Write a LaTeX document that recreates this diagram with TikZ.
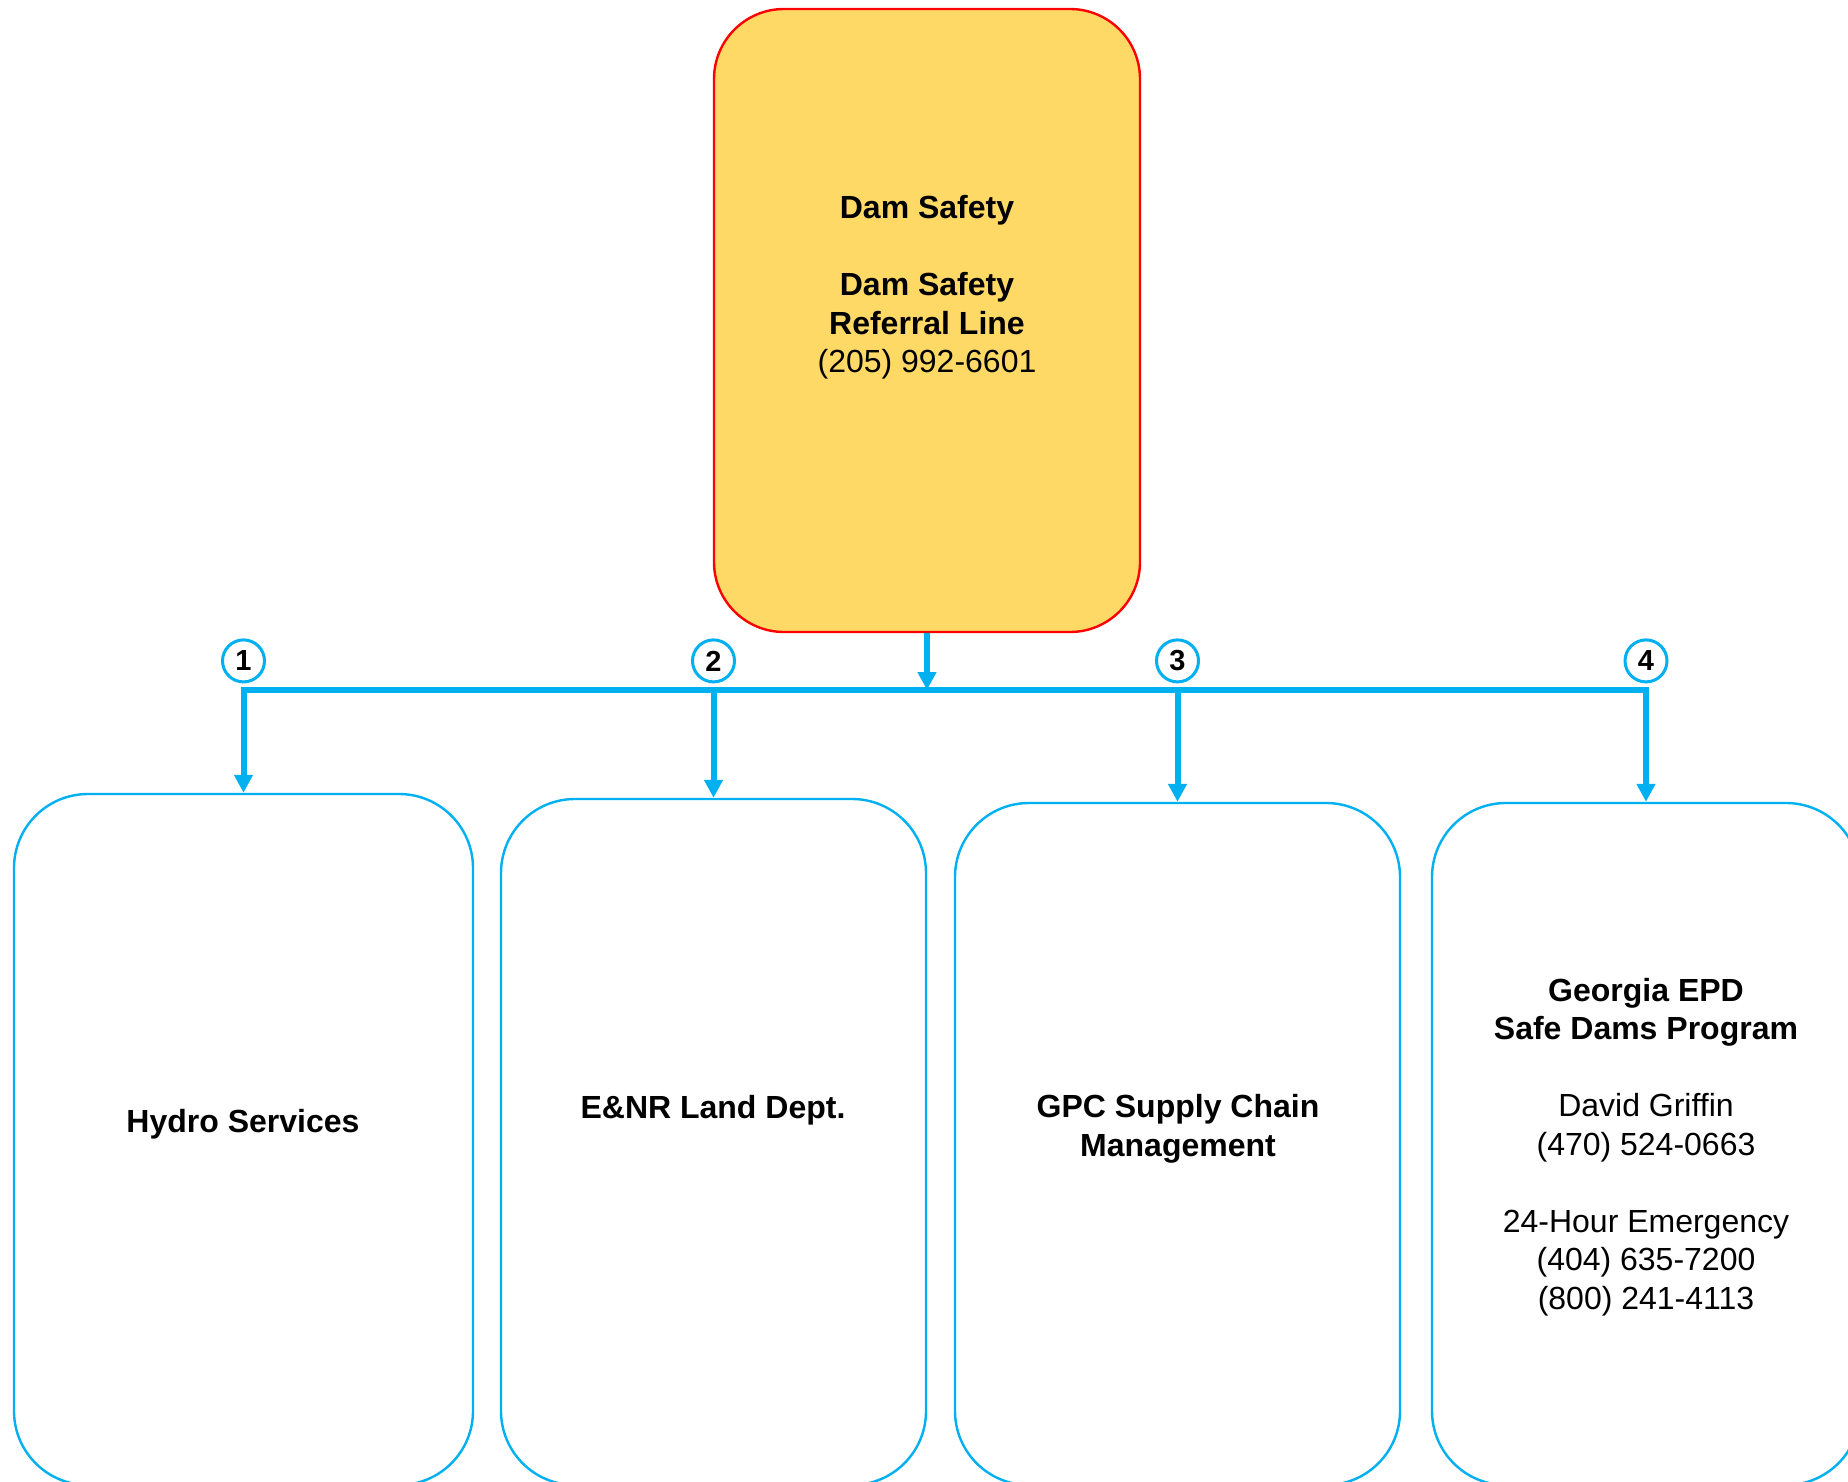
\documentclass[tikz,border=0pt]{standalone}
\usepackage{fontspec}
\setmainfont{Liberation Sans}
\usetikzlibrary{positioning, arrows.meta}

\definecolor{feedblue}{RGB}{0,176,240}
\definecolor{damyellow}{RGB}{255,217,102}

\begin{document}
\begin{tikzpicture}[x=0.5pt, y=-0.5pt, node distance=3.3pt,
  every node/.style={font=\fontsize{16}{19.25}\selectfont},
  headbox/.style={draw=red, line width=1.2pt, fill=damyellow, rounded corners=35pt, minimum width=213pt, minimum height=311.5pt},
  unitbox/.style={draw=feedblue, line width=1.2pt, rounded corners=37pt},
  boxtext/.style={align=center, inner sep=0pt},
  badge/.style={circle, draw=feedblue, line width=1.5pt, minimum size=21pt, inner sep=0pt, font=\fontsize{14.5}{16}\selectfont\bfseries},
  feed/.style={draw=feedblue, line width=3pt, -{Triangle[length=9pt, width=9pt]}}
]
\clip (0,0) rectangle (1848,1482);

% Referral line
\node[headbox] (dam) at (927,320.5) {};
\node[boxtext] (dam-txt) at (927,287.5) {\textbf{Dam Safety}\\[19.25pt]\textbf{Dam Safety}\\\textbf{Referral Line}\\(205) 992-6601};

% Contacts
\node[unitbox, minimum width=229.5pt, minimum height=345.5pt] (hydro) at (243.5,1139.5) {};
\node[unitbox, minimum width=212.5pt, minimum height=343pt] (land) at (713.5,1142) {};
\node[unitbox, minimum width=222.5pt, minimum height=341pt] (supply) at (1177.5,1144) {};
\node[unitbox, minimum width=214pt, minimum height=341pt] (epd) at (1646,1144) {};

\node[boxtext] (hydro-txt) at (243,1124) {\textbf{Hydro Services}};
\node[boxtext] (land-txt) at (713,1110) {\textbf{E\&NR Land Dept.}};
\node[boxtext] (supply-txt) at (1178,1129) {\textbf{GPC Supply Chain}\\\textbf{Management}};
\node[boxtext] (epd-txt) at (1646,1147) {\textbf{Georgia EPD}\\\textbf{Safe Dams Program}\\[19.25pt]David Griffin\\(470) 524-0663\\[19.25pt]24-Hour Emergency\\(404) 635-7200\\(800) 241-4113};

% Bus
\coordinate (bus1) at (hydro.north |- 0,690);
\coordinate (bus2) at (land.north |- 0,690);
\coordinate (bus3) at (supply.north |- 0,690);
\coordinate (bus4) at (epd.north |- 0,690);
\coordinate (hub) at (dam.south |- bus1);

% Arrows
\draw[feed] (dam.south) -- (hub);
\foreach \b in {hydro, land, supply, epd}
  \draw[feed] (hub) -| (\b.north);

% Numbers
\foreach \n in {1,...,4}
  \node[badge, above=of bus\n] (num\n) {\n};

\end{tikzpicture}
\end{document}
